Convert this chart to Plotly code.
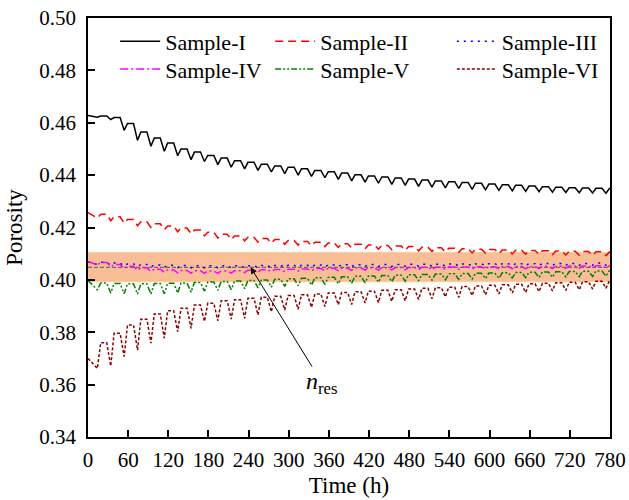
import plotly.graph_objects as go

# ---------------- data ----------------
cycle_t = list(range(14, 780, 20))  # times of the cyclic minima (h)

names = ["Sample-I", "Sample-II", "Sample-III", "Sample-IV", "Sample-V", "Sample-VI"]

I_start = 0.4628
I_dip = [0.4621, 0.4612, 0.4571, 0.4533, 0.4510, 0.4491, 0.4474, 0.4459, 0.4452, 0.4440,
         0.4430, 0.4424, 0.4418, 0.4412, 0.4406, 0.4400, 0.4395, 0.4390, 0.4384, 0.4378,
         0.4373, 0.4369, 0.4365, 0.4361, 0.4357, 0.4354, 0.4351, 0.4349, 0.4346, 0.4344,
         0.4342, 0.4340, 0.4338, 0.4337, 0.4335, 0.4334, 0.4333, 0.4332, 0.4331]
I_top = [0.4626, 0.4620, 0.4597, 0.4565, 0.4542, 0.4523, 0.4500, 0.4488, 0.4475, 0.4465,
         0.4455, 0.4449, 0.4442, 0.4435, 0.4430, 0.4424, 0.4418, 0.4413, 0.4408, 0.4401,
         0.4397, 0.4393, 0.4389, 0.4385, 0.4381, 0.4378, 0.4375, 0.4372, 0.4369, 0.4366,
         0.4363, 0.4361, 0.4358, 0.4356, 0.4354, 0.4352, 0.4351, 0.4350, 0.4349]

II_start = 0.4257
II_dip = [0.4236, 0.4226, 0.4216, 0.4207, 0.4200, 0.4192, 0.4184, 0.4176, 0.4168, 0.4160,
          0.4154, 0.4149, 0.4144, 0.4140, 0.4136, 0.4133, 0.4130, 0.4127, 0.4124, 0.4122,
          0.4119, 0.4117, 0.4115, 0.4113, 0.4111, 0.4109, 0.4107, 0.4105, 0.4103, 0.4102,
          0.4100, 0.4099, 0.4098, 0.4097, 0.4096, 0.4095, 0.4094, 0.4093, 0.4092]
II_top = [0.4251, 0.4241, 0.4231, 0.4222, 0.4214, 0.4206, 0.4198, 0.4190, 0.4182, 0.4174,
          0.4168, 0.4163, 0.4158, 0.4154, 0.4150, 0.4147, 0.4144, 0.4141, 0.4138, 0.4136,
          0.4133, 0.4131, 0.4129, 0.4127, 0.4125, 0.4123, 0.4121, 0.4119, 0.4117, 0.4116,
          0.4114, 0.4113, 0.4112, 0.4111, 0.4110, 0.4109, 0.4108, 0.4107, 0.4106]

III_start = 0.4068
III_dip = [0.4059, 0.4056, 0.4053, 0.4051, 0.4049, 0.4048, 0.4047, 0.4046, 0.4046, 0.4046,
           0.4046, 0.4046, 0.4047, 0.4047, 0.4048, 0.4048, 0.4049, 0.4049, 0.4050, 0.4050,
           0.4051, 0.4051, 0.4051, 0.4052, 0.4052, 0.4052, 0.4053, 0.4053, 0.4053, 0.4054,
           0.4054, 0.4054, 0.4054, 0.4055, 0.4055, 0.4055, 0.4055, 0.4056, 0.4056]
III_top = [0.4067, 0.4064, 0.4061, 0.4059, 0.4057, 0.4056, 0.4055, 0.4054, 0.4054, 0.4054,
           0.4054, 0.4054, 0.4055, 0.4055, 0.4056, 0.4056, 0.4057, 0.4057, 0.4058, 0.4058,
           0.4059, 0.4059, 0.4059, 0.4060, 0.4060, 0.4060, 0.4061, 0.4061, 0.4061, 0.4062,
           0.4062, 0.4062, 0.4062, 0.4063, 0.4063, 0.4063, 0.4063, 0.4064, 0.4064]

IV_start = 0.4070
IV_dip = [0.4057, 0.4050, 0.4043, 0.4037, 0.4032, 0.4029, 0.4027, 0.4026, 0.4025, 0.4025,
          0.4026, 0.4028, 0.4030, 0.4031, 0.4032, 0.4033, 0.4034, 0.4035, 0.4035, 0.4036,
          0.4037, 0.4037, 0.4038, 0.4038, 0.4039, 0.4039, 0.4040, 0.4040, 0.4041, 0.4041,
          0.4042, 0.4042, 0.4042, 0.4043, 0.4043, 0.4044, 0.4044, 0.4045, 0.4045]
IV_top = [0.4066, 0.4059, 0.4052, 0.4046, 0.4041, 0.4038, 0.4036, 0.4035, 0.4034, 0.4034,
          0.4035, 0.4037, 0.4039, 0.4040, 0.4041, 0.4042, 0.4043, 0.4044, 0.4044, 0.4045,
          0.4046, 0.4046, 0.4047, 0.4047, 0.4048, 0.4048, 0.4049, 0.4049, 0.4050, 0.4050,
          0.4051, 0.4051, 0.4051, 0.4052, 0.4052, 0.4053, 0.4053, 0.4054, 0.4054]

V_start = 0.3998
V_dip = [0.3962, 0.3950, 0.3947, 0.3946, 0.3946, 0.3947, 0.3950, 0.3953, 0.3957, 0.3960,
         0.3963, 0.3966, 0.3969, 0.3972, 0.3975, 0.3978, 0.3980, 0.3983, 0.3985, 0.3987,
         0.3989, 0.3991, 0.3993, 0.3995, 0.3997, 0.3999, 0.4000, 0.4002, 0.4003, 0.4005,
         0.4006, 0.4007, 0.4008, 0.4009, 0.4010, 0.4011, 0.4012, 0.4013, 0.4014]
V_top = [0.3988, 0.3986, 0.3985, 0.3985, 0.3986, 0.3987, 0.3988, 0.3990, 0.3992, 0.3994,
         0.3996, 0.3998, 0.4000, 0.4002, 0.4004, 0.4006, 0.4008, 0.4010, 0.4012, 0.4014,
         0.4015, 0.4017, 0.4018, 0.4020, 0.4021, 0.4022, 0.4023, 0.4024, 0.4025, 0.4026,
         0.4027, 0.4028, 0.4029, 0.4030, 0.4031, 0.4032, 0.4033, 0.4034, 0.4035]

VI_start = 0.3700
VI_dip = [0.3662, 0.3671, 0.3707, 0.3732, 0.3758, 0.3777, 0.3802, 0.3815, 0.3841, 0.3844,
          0.3850, 0.3853, 0.3866, 0.3878, 0.3885, 0.3888, 0.3895, 0.3898, 0.3905, 0.3906,
          0.3912, 0.3913, 0.3918, 0.3920, 0.3925, 0.3928, 0.3935, 0.3933, 0.3940, 0.3943,
          0.3946, 0.3950, 0.3952, 0.3955, 0.3958, 0.3960, 0.3962, 0.3965, 0.3968]
VI_top = [0.3760, 0.3796, 0.3828, 0.3850, 0.3870, 0.3882, 0.3892, 0.3904, 0.3911, 0.3920,
          0.3924, 0.3930, 0.3934, 0.3937, 0.3940, 0.3943, 0.3946, 0.3950, 0.3952, 0.3955,
          0.3957, 0.3960, 0.3962, 0.3965, 0.3968, 0.3970, 0.3972, 0.3975, 0.3977, 0.3979,
          0.3981, 0.3983, 0.3985, 0.3987, 0.3989, 0.3991, 0.3993, 0.3995, 0.3996]

n_res = 0.4048
band_lo = 0.3993
band_hi = 0.4105
label_t, label_n = 350, 0.3606
arrow_t = 243

x_ticks = list(range(0, 781, 60))
y_ticks = [0.34, 0.36, 0.38, 0.40, 0.42, 0.44, 0.46, 0.48, 0.50]

# ---------------- styles ----------------
FONT = "'Liberation Serif', 'Times New Roman', Times, serif"
styles = [
    dict(color="#000000", dash="solid"),
    dict(color="#FF0000", dash="8px,5px"),
    dict(color="#0000FF", dash="2px,5px"),
    dict(color="#FF00FF", dash="8px,3px,2px,3px"),
    dict(color="#008000", dash="6px,2px,2px,2px,2px,2px"),
    dict(color="#8B0000", dash="3px,2px"),
]
legend_ids = ["legend", "legend2", "legend3", "legend4", "legend5", "legend6"]
legend_x = [0.052, 0.349, 0.697, 0.052, 0.349, 0.697]
legend_y = [0.944, 0.944, 0.944, 0.878, 0.878, 0.878]


def build(start, dips, tops):
    xs, ys = [0], [start]
    for td, d, tp in zip(cycle_t, dips, tops):
        xs += [td, td + 5, td + 14]
        ys += [d, tp, tp]
    return xs, ys


series = [(I_start, I_dip, I_top), (II_start, II_dip, II_top), (III_start, III_dip, III_top),
          (IV_start, IV_dip, IV_top), (V_start, V_dip, V_top), (VI_start, VI_dip, VI_top)]

fig = go.Figure()
for name, (s, d, t), st, lg in zip(names, series, styles, legend_ids):
    xs, ys = build(s, d, t)
    fig.add_trace(go.Scatter(x=xs, y=ys, mode="lines", name=name, legend=lg,
                             line=dict(color=st["color"], dash=st["dash"], width=1.5)))

fig.add_shape(type="rect", xref="x", yref="y", x0=0, x1=780, y0=band_lo, y1=band_hi,
              fillcolor="#F9BE98", line=dict(color="#F5D28F", width=1), layer="below")
fig.add_shape(type="line", xref="x", yref="y", x0=0, x1=780, y0=n_res, y1=n_res,
              line=dict(color="#555555", width=1, dash="4px,2px"), layer="below")

fig.add_annotation(x=arrow_t, y=n_res, ax=label_t, ay=label_n, axref="x", ayref="y",
                   xref="x", yref="y", text="<i>n</i><sub>res</sub>", showarrow=True,
                   arrowhead=2, arrowsize=1.3, arrowwidth=1, arrowcolor="black",
                   font=dict(family=FONT, size=24, color="black"))

axis_common = dict(showline=True, linecolor="black", linewidth=1.5, mirror=True,
                   ticks="inside", ticklen=7, tickwidth=1.5, tickcolor="black",
                   showgrid=False, zeroline=False, automargin=False,
                   tickfont=dict(family=FONT, size=21, color="black"))

fig.update_xaxes(range=[0, 780], tickvals=x_ticks, ticktext=[str(v) for v in x_ticks],
                 title=dict(text="Time (h)", font=dict(family=FONT, size=23, color="black"),
                            standoff=6),
                 ticklabelstandoff=3, **axis_common)
fig.update_yaxes(range=[0.34, 0.50], tickvals=y_ticks, ticktext=[f"{v:.2f}" for v in y_ticks],
                 title=dict(text="Porosity", font=dict(family=FONT, size=23, color="black"),
                            standoff=10),
                 ticklabelstandoff=6, **axis_common)

legends = {}
for lid, lx, ly in zip(legend_ids, legend_x, legend_y):
    legends[lid] = dict(x=lx, y=ly, xanchor="left", yanchor="middle", orientation="v",
                        bgcolor="rgba(0,0,0,0)", itemwidth=40,
                        font=dict(family=FONT, size=22, color="black"))

fig.update_layout(
    width=629, height=500,
    margin=dict(l=88, r=19, t=18, b=63),
    paper_bgcolor="white", plot_bgcolor="white",
    font=dict(family=FONT, size=21, color="black"),
    showlegend=True,
    **legends,
)

fig.write_html("out.html", config={"displayModeBar": False},
               post_script="document.body.style.margin='0';document.body.style.padding='0';")
